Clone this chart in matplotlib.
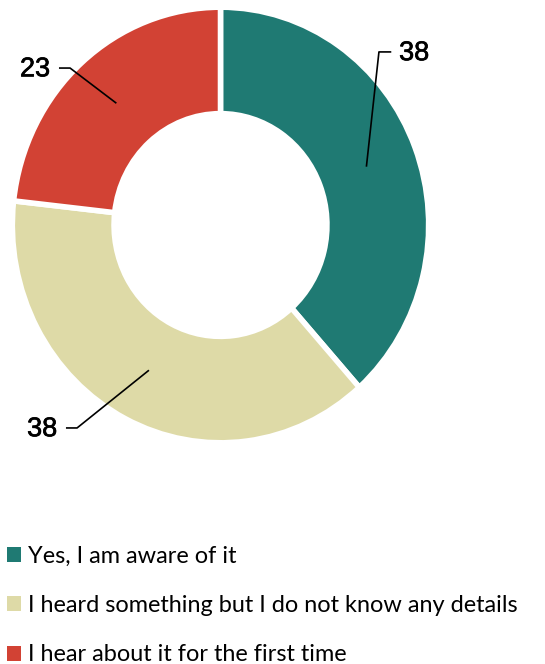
import numpy as np
import matplotlib
matplotlib.use("Agg")
import matplotlib.pyplot as plt
import matplotlib.patheffects as pe
from matplotlib.patches import Patch

categories = [
    "Yes, I am aware of it",
    "I heard something but I do not know any details",
    "I hear about it for the first time",
]
values = [38, 38, 23]
colors = ["#1f7a73", "#dedaa7", "#d24234"]

W, H = 545, 664
fig = plt.figure(figsize=(W / 100, H / 100), dpi=100)

# donut axes placed in pixel terms (slightly taller than wide)
left, top, pw, ph = 15, 10, 411, 430
ax = fig.add_axes([left / W, 1 - (top + ph) / H, pw / W, ph / H])
ring = 0.495
wedges, _ = ax.pie(
    values,
    colors=colors,
    startangle=90,
    counterclock=False,
    radius=1.013,
    wedgeprops=dict(width=ring, edgecolor="white", linewidth=4),
)
ax.set_aspect("auto")
ax.set_xlim(-1, 1)
ax.set_ylim(-1, 1)
ax.axis("off")

# leader lines + value labels
label_font = dict(family="Liberation Sans", fontsize=19.5, color="black")
bold_fx = [pe.withStroke(linewidth=0.5, foreground="black")]
elbows = [(0.771, 0.805), (-0.698, -0.944), (-0.732, 0.730)]
tails = [0.06, -0.054, -0.054]
r_mid = 0.76
for w, v, (ex, ey), t in zip(wedges, values, elbows, tails):
    ang = np.deg2rad((w.theta1 + w.theta2) / 2)
    sx, sy = r_mid * np.cos(ang), r_mid * np.sin(ang)
    ax.plot([sx, ex, ex + t], [sy, ey, ey], color="black", lw=1.2,
            clip_on=False, solid_capstyle="butt")
    gap = 0.038 if t > 0 else -0.042
    ax.text(ex + t + gap, ey - 0.006, str(v), ha="left" if t > 0 else "right",
            va="center", clip_on=False, path_effects=bold_fx, **label_font)

handles = [Patch(facecolor=c, edgecolor="none") for c in colors]
fig.legend(
    handles, categories,
    loc="upper left",
    bbox_to_anchor=(0 / W, 1 - 539 / H),
    frameon=False,
    prop=dict(family="Lato", size=16.9),
    handlelength=0.6, handleheight=0.6,
    handletextpad=0.3,
    labelspacing=1.2,
    borderaxespad=0, borderpad=0.3,
)

fig.savefig("out.png", dpi=100)
